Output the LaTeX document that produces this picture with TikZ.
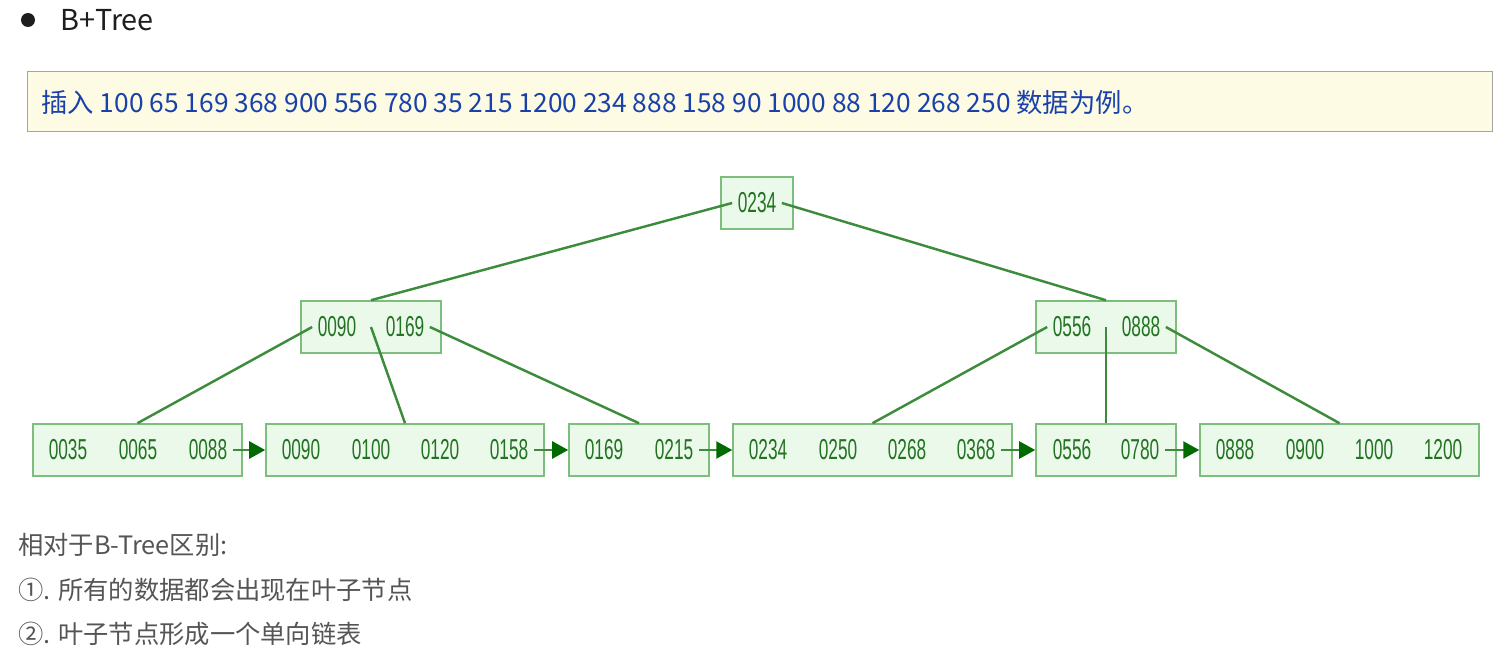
\documentclass[tikz,border=0pt]{standalone}
\usepackage{fontspec}
\setmainfont{Noto Sans CJK SC}
\newfontfamily\keyfont[FakeStretch=0.6]{Liberation Sans}
\usetikzlibrary{arrows.meta}
\definecolor{boxfill}{RGB}{234,249,234}
\definecolor{boxline}{RGB}{125,190,125}
\definecolor{edgecol}{RGB}{60,140,60}
\definecolor{keycol}{RGB}{35,115,35}
\definecolor{headcol}{RGB}{0,105,0}
\definecolor{notefill}{RGB}{254,251,229}
\definecolor{noteline}{RGB}{165,165,165}
\definecolor{notetext}{RGB}{25,65,170}
\definecolor{graytext}{RGB}{85,85,85}
\definecolor{bullet}{RGB}{30,30,30}

\begin{document}
\begin{tikzpicture}[x=0.02cm,y=-0.02cm,
    box/.style={draw=boxline,fill=boxfill,line width=0.9pt,minimum height=1.04cm,inner sep=0pt},
    key/.style={font=\keyfont\fontsize{16.4}{18}\selectfont,text=keycol,inner sep=3pt},
    edge/.style={draw=edgecol,line width=1.4pt},
    link/.style={draw=edgecol,line width=1.4pt,-{Triangle[color=headcol,length=0.32cm,width=0.34cm]}},
    line/.style={anchor=west,inner sep=0pt,text=graytext,font=\fontsize{14.4}{17}\selectfont}]
  \useasboundingbox (0,0) rectangle (1500,672);

  % heading
  \fill[bullet] (28,20) circle[radius=0.14cm];
  \node[anchor=west,inner sep=0pt,text=bullet,font=\fontsize{16.4}{19}\selectfont] (title) at (60,20) {B+Tree};

  % inserted data
  \node[draw=noteline,fill=notefill,line width=0.8pt,anchor=north west,minimum width=29.3cm,minimum height=1.2cm] (note) at (27,71) {};
  \node[anchor=west,inner sep=0pt,text=notetext,font=\fontsize{15}{18}\selectfont] (data) at (41,103)
    {插入 100 65 169 368 900 556 780 35 215 1200 234 888 158 90 1000 88 120 268 250 数据为例。};

  % root
  \node[box,minimum width=1.44cm] (root) at (757,203) {};
  \node[key] (r234) at (757,203) {0234};

  % inner nodes
  \node[box,minimum width=2.8cm] (i1) at (371,327) {};
  \node[key] (i090) at (337,327) {0090};
  \node[key] (i169) at (405,327) {0169};
  \node[box,minimum width=2.8cm] (i2) at (1106,327) {};
  \node[key] (i556) at (1072,327) {0556};
  \node[key] (i888) at (1141,327) {0888};

  % leaves
  \node[box,minimum width=4.18cm] (l1) at (137.5,450) {};
  \node[key] (k035) at (68,450) {0035};
  \node[key] (k065) at (138,450) {0065};
  \node[key] (k088) at (208,450) {0088};
  \node[box,minimum width=5.56cm] (l2) at (405,450) {};
  \node[key] (k090) at (301,450) {0090};
  \node[key] (k100) at (371,450) {0100};
  \node[key] (k120) at (440,450) {0120};
  \node[key] (k158) at (509,450) {0158};
  \node[box,minimum width=2.8cm] (l3) at (639,450) {};
  \node[key] (k169) at (604,450) {0169};
  \node[key] (k215) at (674,450) {0215};
  \node[box,minimum width=5.58cm] (l4) at (872.5,450) {};
  \node[key] (k234) at (768,450) {0234};
  \node[key] (k250) at (838,450) {0250};
  \node[key] (k268) at (907,450) {0268};
  \node[key] (k368) at (976,450) {0368};
  \node[box,minimum width=2.8cm] (l5) at (1106,450) {};
  \node[key] (k556) at (1072,450) {0556};
  \node[key] (k780) at (1140,450) {0780};
  \node[box,minimum width=5.58cm] (l6) at (1339.5,450) {};
  \node[key] (k888) at (1235,450) {0888};
  \node[key] (k900) at (1305,450) {0900};
  \node[key] (k1000) at (1374,450) {1000};
  \node[key] (k1200) at (1443,450) {1200};

  % tree edges
  \draw[edge] (r234.west) -- (i1.north);
  \draw[edge] (r234.east) -- (i2.north);
  \draw[edge] (i090.west) -- (l1.north);
  \draw[edge] (i1.center) -- (l2.north);
  \draw[edge] (i169.east) -- (l3.north);
  \draw[edge] (i556.west) -- (l4.north);
  \draw[edge] (i2.center) -- (l5.north);
  \draw[edge] (i888.east) -- (l6.north);

  % leaf list
  \draw[link] (k088.east) -- (l2.west);
  \draw[link] (k158.east) -- (l3.west);
  \draw[link] (k215.east) -- (l4.west);
  \draw[link] (k368.east) -- (l5.west);
  \draw[link] (k780.east) -- (l6.west);

  % notes
  \node[line] (diff) at (18,545) {相对于B-Tree区别:};
  \node[line] (first) at (18,590) {①. 所有的数据都会出现在叶子节点};
  \node[line] (second) at (18,634) {②. 叶子节点形成一个单向链表};
\end{tikzpicture}
\end{document}
